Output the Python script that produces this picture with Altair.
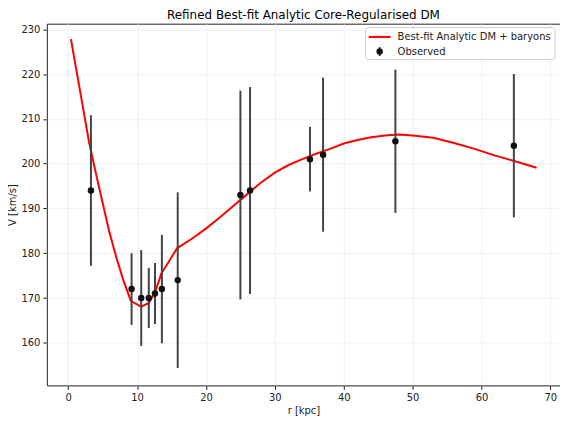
import altair as alt
import pandas as pd

# Observed data
r_obs = [3.3, 9.2, 10.6, 11.7, 12.6, 13.6, 15.9, 25.0, 26.4, 35.1, 37.0, 47.5, 64.7]
v_obs = [194, 172, 170, 170, 171, 172, 174, 193, 194, 201, 202, 205, 204]
v_err = [16.8, 8, 10.7, 6.7, 6.8, 12.1, 19.6, 23.3, 23.1, 7.2, 17.2, 16, 16]

# Best-fit model curve
r_fit = [0.4, 1, 2, 3, 4, 5, 6, 7, 8, 9.1, 10.6, 11.7, 12.6, 13.5, 15.8, 18, 20, 22, 24,
         26, 28, 30, 32, 34, 36, 38, 40, 42, 44, 46, 48, 50, 53, 56, 59, 62, 65, 68]
v_fit = [227.8, 222.5, 213.8, 205.0, 198.0, 191.2, 184.6, 179.0, 174.0, 169.3, 168.1, 168.9,
         171.2, 175.4, 181.1, 183.3, 185.5, 188.0, 190.6, 193.2, 195.8, 198.0, 199.7, 201.0,
         202.2, 203.3, 204.5, 205.3, 205.9, 206.3, 206.5, 206.3, 205.8, 204.6, 203.3, 201.8,
         200.5, 199.1]

x_ticks = [0, 10, 20, 30, 40, 50, 60, 70]
y_ticks = [160, 170, 180, 190, 200, 210, 220, 230]

obs = pd.DataFrame({"r": r_obs, "v": v_obs, "err": v_err})
obs["lo"] = obs["v"] - obs["err"]
obs["hi"] = obs["v"] + obs["err"]
fit = pd.DataFrame({"r": r_fit, "v": v_fit})

FONT = "DejaVu Sans"
xscale = alt.Scale(domain=[-3.1, 71.4], nice=False, zero=False)
yscale = alt.Scale(domain=[150.5, 231.25], nice=False, zero=False)
xaxis = alt.Axis(values=x_ticks, title="r [kpc]", grid=True, domain=False, tickSize=4,
                 labelPadding=3, titlePadding=3, format="d")
yaxis = alt.Axis(values=y_ticks, title="V [km/s]", grid=True, domain=False, tickSize=4,
                 labelPadding=3, titlePadding=3, format="d")

line = alt.Chart(fit).mark_line(color="#ff0000", strokeWidth=2).encode(
    x=alt.X("r:Q", scale=xscale, axis=xaxis),
    y=alt.Y("v:Q", scale=yscale, axis=yaxis),
)

bars = alt.Chart(obs).mark_rule(color="#444444", strokeWidth=2).encode(
    x=alt.X("r:Q", scale=xscale),
    y=alt.Y("lo:Q", scale=yscale),
    y2="hi:Q",
)

pts = alt.Chart(obs).mark_circle(color="#111111", size=42, opacity=1).encode(
    x=alt.X("r:Q", scale=xscale),
    y=alt.Y("v:Q", scale=yscale),
)

one = pd.DataFrame({"a": [0]})
leg_box = alt.Chart(one).mark_rect(fill="white", fillOpacity=0.85, stroke="#cccccc",
                                   strokeWidth=1, cornerRadius=3).encode(
    x=alt.value(320), x2=alt.value(510), y=alt.value(4), y2=alt.value(36))
leg_line = alt.Chart(one).mark_rule(color="#ff0000", strokeWidth=2).encode(
    x=alt.value(323), x2=alt.value(345), y=alt.value(13.3))
leg_bar = alt.Chart(one).mark_rule(color="#111111", strokeWidth=1.5).encode(
    x=alt.value(334), y=alt.value(23.5), y2=alt.value(32.5))
leg_pt = alt.Chart(one).mark_circle(color="#111111", size=42, opacity=1).encode(
    x=alt.value(334), y=alt.value(28))
leg_t1 = alt.Chart(one).mark_text(text="Best-fit Analytic DM + baryons", align="left",
                                  baseline="middle", font=FONT, fontSize=10, color="#222222").encode(
    x=alt.value(352), y=alt.value(13.5))
leg_t2 = alt.Chart(one).mark_text(text="Observed", align="left", baseline="middle",
                                  font=FONT, fontSize=10, color="#222222").encode(
    x=alt.value(352), y=alt.value(28.5))

chart = alt.layer(line, bars, pts, leg_box, leg_line, leg_bar, leg_pt, leg_t1, leg_t2).properties(
    width=515,
    height=363,
    title=alt.TitleParams("Refined Best-fit Analytic Core-Regularised DM", font=FONT,
                          fontSize=12, fontWeight="normal", color="#000000", offset=2),
    autosize=alt.AutoSizeParams(type="none"),
    padding={"left": 39, "top": 15, "right": 0, "bottom": 33},
).configure_view(
    stroke="#222222", strokeWidth=1
).configure_axis(
    labelFont=FONT, titleFont=FONT, labelFontSize=10, titleFontSize=10,
    titleFontWeight="normal", labelColor="#222222", titleColor="#222222",
    tickColor="#222222", gridColor="#ebebeb", gridWidth=0.8,
)

chart.save("out.html", embed_options={"renderer": "svg", "actions": False})
